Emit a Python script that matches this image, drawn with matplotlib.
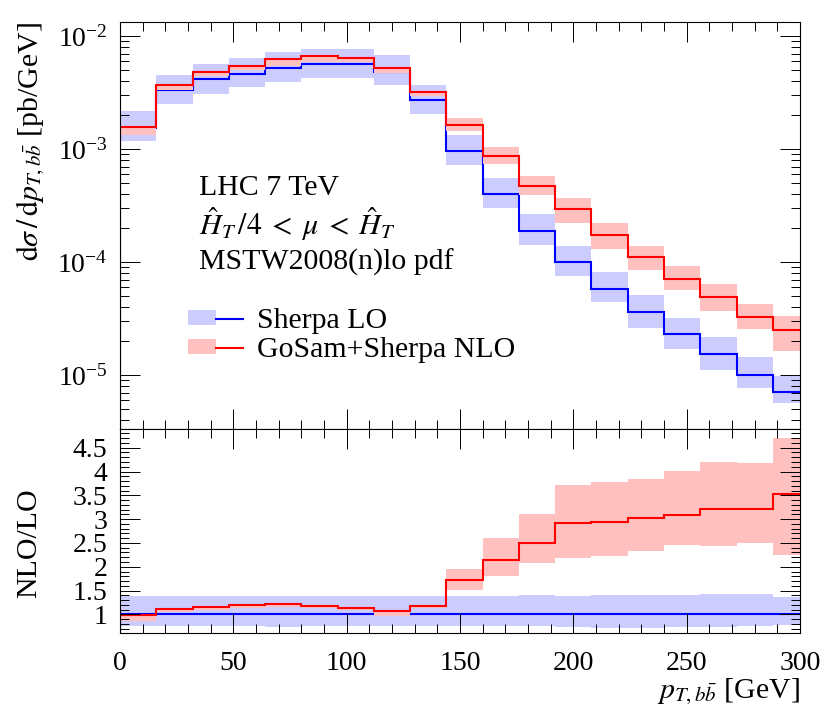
import matplotlib
matplotlib.use("Agg")
import matplotlib.pyplot as plt
from matplotlib.patches import Patch
from matplotlib.lines import Line2D
from matplotlib.legend_handler import HandlerTuple
from matplotlib.ticker import MultipleLocator, LogLocator, FixedLocator, NullFormatter

plt.rcParams["font.family"] = ["Liberation Serif", "DejaVu Serif"]
plt.rcParams["mathtext.fontset"] = "stix"

# bin edges in GeV (last bin runs past the 300 GeV axis end)
bin_edges = [0, 16, 32, 48, 64, 80, 96, 112, 128, 144, 160, 176, 192, 208,
             224, 240, 256, 272, 288, 304]

# Sherpa LO [pb/GeV]
lo = [1.55e-3, 3.31e-3, 4.14e-3, 4.67e-3, 5.28e-3, 5.73e-3, 5.73e-3, 4.83e-3,
      2.72e-3, 9.6e-4, 4.03e-4, 1.88e-4, 1.0e-4, 5.81e-5, 3.63e-5, 2.29e-5,
      1.53e-5, 1.01e-5, 7.11e-6]
lo_up = [2.18e-3, 4.58e-3, 5.73e-3, 6.43e-3, 7.25e-3, 7.78e-3, 7.78e-3, 6.84e-3,
         3.73e-3, 1.33e-3, 5.57e-4, 2.64e-4, 1.39e-4, 8.1e-5, 5.1e-5, 3.21e-5,
         2.16e-5, 1.45e-5, 9.8e-6]
lo_dn = [1.18e-3, 2.49e-3, 3.11e-3, 3.52e-3, 3.95e-3, 4.31e-3, 4.31e-3, 3.73e-3,
         2.03e-3, 7.2e-4, 3.03e-4, 1.43e-4, 7.57e-5, 4.40e-5, 2.6e-5, 1.70e-5,
         1.11e-5, 7.73e-6, 5.61e-6]

# GoSam+Sherpa NLO [pb/GeV]
nlo = [1.58e-3, 3.71e-3, 4.80e-3, 5.45e-3, 6.25e-3, 6.65e-3, 6.48e-3, 5.25e-3,
       3.21e-3, 1.65e-3, 8.67e-4, 4.71e-4, 2.94e-4, 1.73e-4, 1.10e-4, 7.08e-5,
       4.93e-5, 3.26e-5, 2.52e-5]
nlo_up = [1.58e-3, 3.75e-3, 4.85e-3, 5.5e-3, 6.3e-3, 6.7e-3, 6.55e-3, 5.3e-3,
          3.25e-3, 1.87e-3, 1.035e-3, 5.81e-4, 3.73e-4, 2.20e-4, 1.39e-4, 9.2e-5,
          6.38e-5, 4.25e-5, 3.35e-5]
nlo_dn = [1.33e-3, 3.33e-3, 4.43e-3, 5.0e-3, 5.5e-3, 5.95e-3, 5.95e-3, 4.7e-3,
          2.95e-3, 1.44e-3, 7.33e-4, 3.92e-4, 2.24e-4, 1.30e-4, 8.49e-5, 5.65e-5,
          3.71e-5, 2.55e-5, 1.63e-5]

# ratio panel (NLO/LO)
lo_ratio = [1.0] * 19
lo_ratio_up = [1.39, 1.39, 1.39, 1.39, 1.39, 1.39, 1.39, 1.39, 1.39, 1.39,
               1.38, 1.40, 1.38, 1.41, 1.40, 1.41, 1.43, 1.43, 1.36]
lo_ratio_dn = [0.75, 0.76, 0.75, 0.75, 0.74, 0.75, 0.75, 0.75, 0.75, 0.75,
               0.75, 0.75, 0.73, 0.72, 0.72, 0.73, 0.74, 0.75, 0.78]
nlo_ratio = [0.987, 1.12, 1.162, 1.19, 1.211, 1.169, 1.141, 1.064, 1.183, 1.725,
             2.147, 2.497, 2.912, 2.948, 3.018, 3.096, 3.222, 3.207, 3.524]
nlo_ratio_up = [0.99, 1.12, 1.162, 1.19, 1.211, 1.17, 1.145, 1.064, 1.183, 1.957,
                2.596, 3.102, 3.714, 3.783, 3.84, 4.015, 4.192, 4.17, 4.698]
nlo_ratio_dn = [0.852, 1.06, 1.10, 1.13, 1.15, 1.13, 1.10, 0.96, 1.13, 1.506,
                1.80, 2.075, 2.189, 2.223, 2.322, 2.448, 2.427, 2.505, 2.245]

ratio_ticks = [1, 1.5, 2, 2.5, 3, 3.5, 4, 4.5]
ratio_ticklabels = ["1", "1.5", "2", "2.5", "3", "3.5", "4", "4.5"]

blue, blue_band = "#0000ff", "#ccccff"
red, red_band = "#ff0000", "#ffc0c0"
fs = 21.5
tfs = 20

fig = plt.figure(figsize=(8.3, 7.14), dpi=100)
ax1 = fig.add_axes([0.1446, 0.3992, 0.8193, 0.5700])
ax2 = fig.add_axes([0.1446, 0.1134, 0.8193, 0.2858], sharex=ax1)

for ax in (ax1, ax2):
    for s in ax.spines.values():
        s.set_linewidth(0.8)
    ax.tick_params(which="both", direction="in", top=True, right=True,
                   width=0.7, labelsize=tfs, pad=9)
    ax.tick_params(axis="x", which="both", pad=13)
    ax.tick_params(which="major", length=14.5)
    ax.tick_params(which="minor", length=6.5)
    ax.xaxis.set_major_locator(MultipleLocator(50))
    ax.xaxis.set_minor_locator(MultipleLocator(10))

# upper panel
ax1.stairs(lo_up, bin_edges, baseline=lo_dn, fill=True, color=blue_band, lw=0)
ax1.stairs(lo, bin_edges, color=blue, lw=1.5)
ax1.stairs(nlo_up, bin_edges, baseline=nlo_dn, fill=True, color=red_band, lw=0)
ax1.stairs(nlo, bin_edges, color=red, lw=1.5)
ax1.set_yscale("log")
ax1.set_ylim(3.33e-6, 1.337e-2)
ax1.set_xlim(0, 300)
ax1.yaxis.set_major_locator(LogLocator(base=10, numticks=10))
ax1.yaxis.set_minor_locator(LogLocator(base=10, subs=range(2, 10), numticks=20))
ax1.yaxis.set_minor_formatter(NullFormatter())
ax1.tick_params(axis="x", labelbottom=False)
ax1.set_ylabel(r"$\mathrm{d}\sigma\,/\,\mathrm{d}p_{T,b\bar{b}}$ [pb/GeV]",
               fontsize=fs, loc="top")
ax1.yaxis.set_label_coords(-0.108, 1.0)

ax1.text(0.116, 0.575, "LHC 7 TeV", transform=ax1.transAxes, fontsize=fs,
         va="baseline")
ax1.text(0.116, 0.477, r"$\hat{H}_T\,/4\;<\;\mu\;<\;\hat{H}_T$",
         transform=ax1.transAxes, fontsize=fs, va="baseline")
ax1.text(0.116, 0.391, "MSTW2008(n)lo pdf", transform=ax1.transAxes, fontsize=fs,
         va="baseline")

handles = [(Patch(facecolor=blue_band, lw=0), Line2D([], [], color=blue, lw=1.5)),
           (Patch(facecolor=red_band, lw=0), Line2D([], [], color=red, lw=1.5))]
ax1.legend(handles, ["Sherpa LO", "GoSam+Sherpa NLO"],
           handler_map={tuple: HandlerTuple(ndivide=None)},
           loc="center left", bbox_to_anchor=(0.1, 0.229), frameon=False,
           fontsize=fs, borderpad=0, borderaxespad=0, handlelength=1.85,
           handleheight=0.42, handletextpad=0.45, labelspacing=0.1)

# ratio panel
ax2.stairs(lo_ratio_up, bin_edges, baseline=lo_ratio_dn, fill=True,
           color=blue_band, lw=0)
ax2.stairs(lo_ratio, bin_edges, color=blue, lw=1.5)
ax2.stairs(nlo_ratio_up, bin_edges, baseline=nlo_ratio_dn, fill=True,
           color=red_band, lw=0)
ax2.stairs(nlo_ratio, bin_edges, color=red, lw=1.5)
ax2.set_ylim(0.608, 4.894)
ax2.set_xlim(0, 300)
ax2.yaxis.set_major_locator(FixedLocator(ratio_ticks))
ax2.set_yticklabels(ratio_ticklabels)
ax2.yaxis.set_minor_locator(MultipleLocator(0.1))
ax2.set_ylabel("NLO/LO", fontsize=fs)
ax2.yaxis.set_label_coords(-0.114, 0.44)
ax2.set_xlabel(r"$p_{T,b\bar{b}}$ [GeV]", fontsize=fs, loc="right", labelpad=0)

fig.savefig("out.png", dpi=100)
